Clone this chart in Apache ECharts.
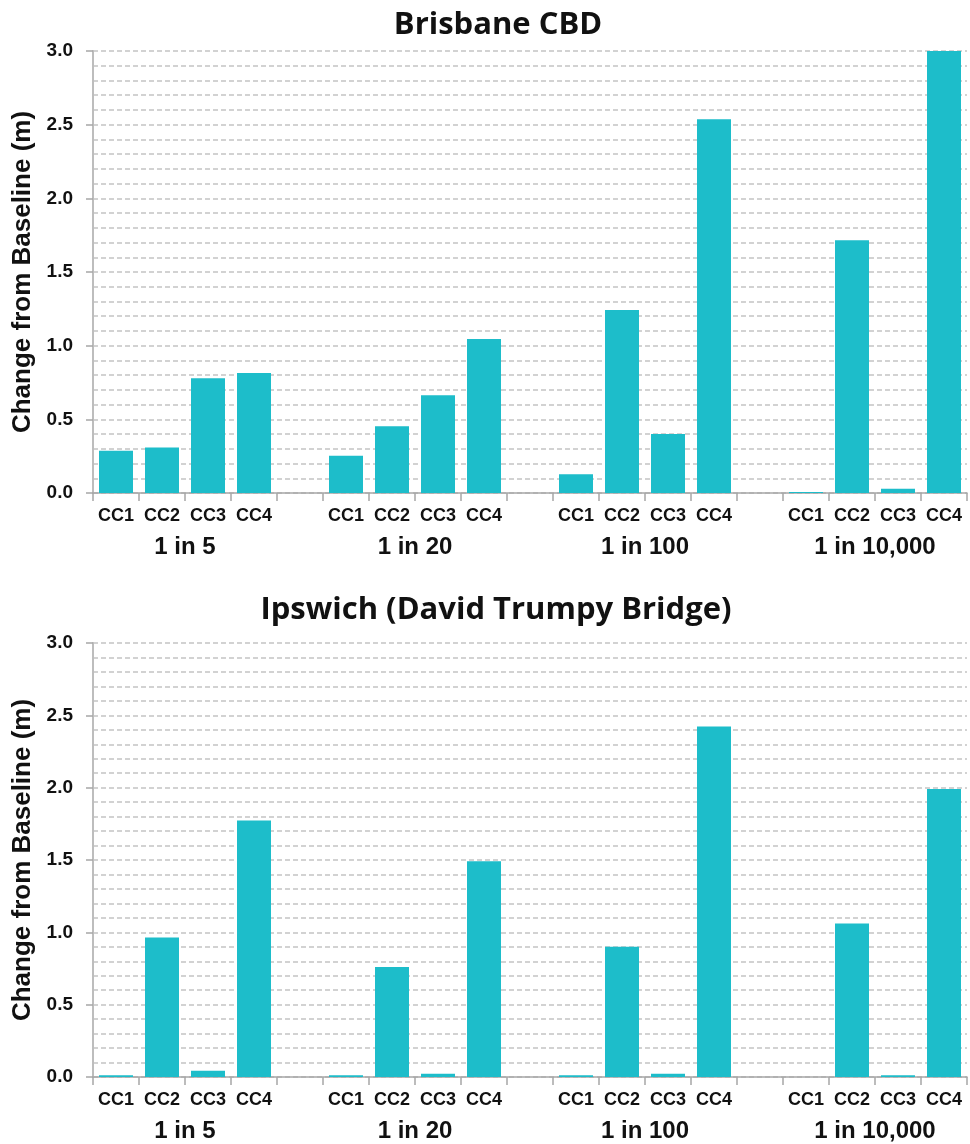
<!DOCTYPE html>
<html>
<head>
<meta charset="utf-8">
<script src="https://cdn.jsdelivr.net/npm/echarts@6/dist/echarts.min.js"></script>
<style>
html,body{margin:0;padding:0;background:#fff;}
#chart{width:970px;height:1144px;}
</style>
</head>
<body>
<div id="chart"></div>
<script>
// ---- data ----
const scenarios = ['CC1', 'CC2', 'CC3', 'CC4'];
const events = ['1 in 5', '1 in 20', '1 in 100', '1 in 10,000'];
const titles = ['Brisbane CBD', 'Ipswich (David Trumpy Bridge)'];
const yTickLabels = ['0.0', '0.5', '1.0', '1.5', '2.0', '2.5', '3.0'];
const brisbane1in5 = [0.287, 0.308, 0.779, 0.815];
const brisbane1in20 = [0.253, 0.453, 0.663, 1.045];
const brisbane1in100 = [0.127, 1.242, 0.400, 2.537];
const brisbane1in10000 = [0.007, 1.716, 0.029, 3.0];
const ipswich1in5 = [0.012, 0.964, 0.044, 1.773];
const ipswich1in20 = [0.012, 0.761, 0.023, 1.491];
const ipswich1in100 = [0.012, 0.900, 0.023, 2.423];
const ipswich1in10000 = [0.0, 1.061, 0.012, 1.990];

// ---- build flattened slots (4 bars + gap per event) ----
function flatten(groups) {
  const out = [];
  groups.forEach((g, i) => {
    g.forEach(v => out.push(v));
    if (i < groups.length - 1) out.push('-');
  });
  return out;
}
const categories = [];
events.forEach((e, i) => {
  scenarios.forEach(s => categories.push(s));
  if (i < events.length - 1) categories.push('');
});
const brisbane = flatten([brisbane1in5, brisbane1in20, brisbane1in100, brisbane1in10000]);
const ipswich = flatten([ipswich1in5, ipswich1in20, ipswich1in100, ipswich1in10000]);

const barColor = '#1dbdca';
const txt = '#111';
const axisGray = '#bdbdbd';
const arial = 'Liberation Sans, Arial, sans-serif';

const grids = [
  { left: 93, width: 874, top: 51, height: 442, outerBoundsMode: 'none', containLabel: false },
  { left: 93, width: 874, top: 643, height: 434, outerBoundsMode: 'none', containLabel: false }
];

function catAxis(gi) {
  return {
    type: 'category', gridIndex: gi, data: categories,
    axisLine: { show: true, lineStyle: { color: '#a6a6a6', width: 1.5 } },
    axisTick: { show: true, interval: 0, length: 8, lineStyle: { color: '#a6a6a6', width: 1.5 } },
    axisLabel: { interval: 0, margin: 14, color: txt, fontFamily: arial, fontWeight: 'bold', fontSize: 18 }
  };
}
function groupAxis(gi) {
  return {
    type: 'value', gridIndex: gi, min: 0, max: 19, interval: 1, position: 'bottom',
    axisLine: { show: false }, axisTick: { show: false }, splitLine: { show: false },
    axisLabel: {
      margin: 42, color: txt, fontFamily: arial, fontWeight: 'bold', fontSize: 24,
      showMinLabel: true, showMaxLabel: true,
      formatter: function (v) {
        const k = Math.round(v);
        if ((k - 2) % 5 === 0 && k >= 2) return events[(k - 2) / 5] || '';
        return '';
      }
    }
  };
}
function valAxis(gi) {
  return {
    type: 'value', gridIndex: gi, min: 0, max: 3, interval: 0.5,
    name: 'Change from Baseline (m)', nameLocation: 'middle', nameGap: 57, nameRotate: 90,
    nameTextStyle: { color: txt, fontFamily: arial, fontWeight: 'bold', fontSize: 26 },
    axisLine: { show: true, lineStyle: { color: axisGray, width: 2 } },
    axisTick: { show: true, inside: false, length: 7, lineStyle: { color: '#a6a6a6', width: 1.5 } },
    minorTick: { show: false, splitNumber: 5 },
    splitLine: { show: true, lineStyle: { color: '#c4c4c4', type: [5, 3], width: 1.5 } },
    minorSplitLine: { show: true, lineStyle: { color: '#c4c4c4', type: [5, 3], width: 1.5 } },
    axisLabel: {
      margin: 20, color: txt, fontFamily: arial, fontWeight: 'bold', fontSize: 19,
      formatter: function (v) { return yTickLabels[Math.round(v / 0.5)]; }
    }
  };
}

const option = {
  animation: false,
  backgroundColor: '#fff',
  title: [
    { text: titles[0], left: 493, top: 5, textAlign: 'center',
      textStyle: { color: txt, fontFamily: 'Open Sans, sans-serif', fontWeight: 'bold', fontSize: 31 } },
    { text: titles[1], left: 491, top: 590, textAlign: 'center',
      textStyle: { color: txt, fontFamily: 'Open Sans, sans-serif', fontWeight: 'bold', fontSize: 31 } }
  ],
  grid: grids,
  xAxis: [catAxis(0), groupAxis(0), catAxis(1), groupAxis(1)],
  yAxis: [valAxis(0), valAxis(1)],
  series: [
    { type: 'bar', xAxisIndex: 0, yAxisIndex: 0, data: brisbane, barWidth: 34,
      itemStyle: { color: barColor } },
    { type: 'bar', xAxisIndex: 2, yAxisIndex: 1, data: ipswich, barWidth: 34,
      itemStyle: { color: barColor } }
  ]
};

const chart = echarts.init(document.getElementById('chart'), null, { renderer: 'canvas' });
chart.setOption(option);
</script>
</body>
</html>
